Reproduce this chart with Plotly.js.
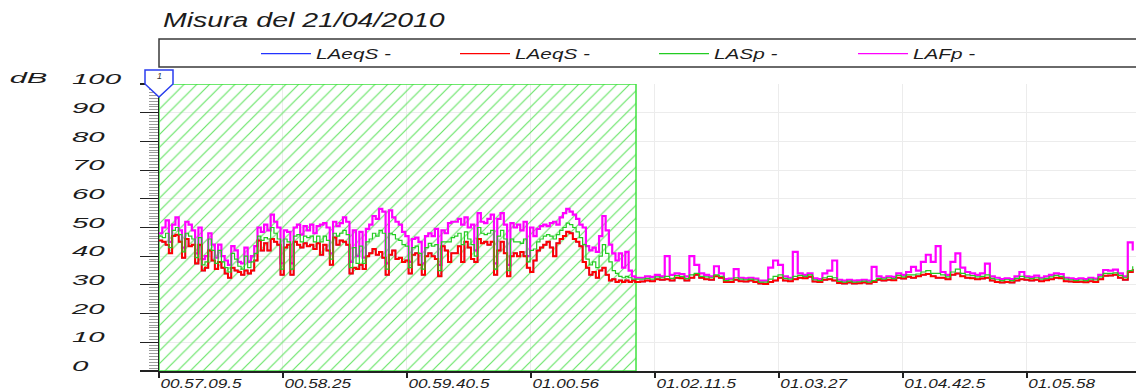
<!DOCTYPE html>
<html><head><meta charset="utf-8">
<script src="https://cdn.plot.ly/plotly-3.0.1.min.js"></script>
<style>html,body{margin:0;padding:0;background:#fff}#chart{width:1136px;height:390px}</style>
</head><body><div id="chart"></div>
<script>
// ---- tick labels / axis values ----
const tickLabels = ['00.57.09.5','00.58.25','00.59.40.5','01.00.56','01.02.11.5','01.03.27','01.04.42.5','01.05.58'];
const tickSeconds = [0, 75.5, 151, 226.5, 302, 377.5, 453, 528.5]; // seconds after 00.57.09.5
const xRange = [0, 595];
const yRange = [0, 100];
const hatchStart = 0, hatchEnd = 290.5;   // marked interval "1"
const seriesNames = ['LAeqS -', 'LAeqS -', 'LASp -', 'LAFp -'];

// sampling grid: part A every 2 s (0..290), part B every 3 s (293..593)
const stepA = 2, lastA = 290, firstB = 293, stepB = 3, lastB = 593;

// ---- LAFp (magenta) ----
const lafpA = [
 48,50,52.5,45,51,53.5,49,43,52,51,
 49,41,50,39,40,48,44,39.5,44,40,
 38.5,37,43.5,42,38,37.5,43,38,40,43.5,
 50,48.5,51,49,54.5,52,50,37.5,49,48.5,
 37.5,50,51,47.5,50.5,49,51,48,50.5,51,
 51.5,50,41,52,50.5,51.5,53.5,52,38,49,
 40,48.5,39.5,49.5,51,54,53,56.5,55.5,37.5,
 56,53.5,52,51,48.5,47,38,46,46.5,45,
 37.5,47,48,47,49.5,37,49,48,51.5,52,
 52,53,51,53.5,50,51,42,55,52,51.5,
 53,54.5,37.5,53,55,51,37,51.5,50,51,
 49,52,40,50,47,49.5,50.5,51,50.5,51.5,
 52,51,53.5,55,56.5,55.5,54.5,53,51,50,
 43.5,42,43,41.5,47,54,49,44,41,38.5,
 41,36,41.5,35,33,32.5];
const lafpB = [
 32.5,33,32.8,33.5,33,40,33.5,34,33.8,33,
 40,37,34,33.5,33,36.5,34,32,32.2,35.5,
 32.5,32.3,32.5,32.2,31.5,31.5,36,38.5,37,33,
 32.5,41.5,34,33.5,34,32.3,32,34,35,38.5,
 31.8,31.5,31.8,31.5,31.6,31.8,31.5,36.3,33,32.5,
 33,32.8,34,33.5,34.5,36.3,35,38,40.5,38,
 43.5,34.5,33.5,38,41,36,34.5,34,33.5,34,
 37.4,33,32.5,32,32.3,32,33,34.5,33,32.8,
 33.2,32.5,33,33.5,34,33.8,32.5,32.3,32,32.3,
 32,32.5,32.2,33.5,35.2,35,35.3,34,33,44.8,
 42];

// ---- LASp (green) ----
const laspA = [
 47,46.5,48,43,49,50,47.5,41.5,48,47,
 46,39.5,46.5,37,38,46,42,37.5,42,38,
 36,34.5,41,39,36.5,35.5,40,36,38,41,
 47,45.5,46.5,46,50,48,46,35.5,46,45,
 35.5,47,47.5,45,47,46.5,47,45,47,45,
 47,45.5,39,48,47,48,49,47.5,36,43,
 37.5,43.5,37.5,45,46,48,47,49,48,35.5,
 48,47.5,46,45.5,44,43.5,36,43,43.5,41,
 35.5,43,44.5,43.5,44,35,45,45,45,46.5,
 47,48,44,48.5,46,44,40,50,48,47.5,
 48,49,35.5,47,49,46,35,46,45,45,
 44.5,46,38,42,42.5,45,46,47,47.5,47,
 46,47.5,49,50,51.5,51,50,48.5,46.5,44,
 39,37,38,36,40,44,41,38,35,34,
 33,32.5,33,32.5,32,32];
const laspB = [
 32,32.3,32,32.8,32.5,33,32.3,33.2,33,32.2,
 33.5,34,33,32.8,32.5,33.5,33,31.5,31.7,32.5,
 32,31.8,32,31.7,31,31,32,33,33.5,32.3,
 32,33,33.3,33,33.5,31.8,31.5,32.5,33,32.5,
 31.2,31,31.3,31,31.1,31.3,31,31.5,32.3,32,
 32.5,32.2,33.3,32.8,33.5,33.5,33.8,34.5,35,34,
 34,33.5,32.8,34.5,35.5,34,33.5,33.2,32.8,33,
 33.5,32.3,31.8,31.5,31.8,31.5,32.3,33,32.5,32.2,
 32.5,32,32.3,32.8,33.3,33,32,31.8,31.5,31.7,
 31.5,32,31.7,32.8,34,34,34.2,33.3,32.5,35,
 36.5];

// ---- LAeqS (red; the blue LAeqS trace carries the same values) ----
const laeqA = [
 45.5,45,44,41,47,47.5,45,39.5,46,43.5,
 44,37.5,44,35,36,42,38.5,35.5,38,36,
 34,32.5,36,35,34.5,33.5,35,34,35,38.5,
 45.5,42,44.5,42,46,45,44,33.5,43,44,
 33.5,45,44,43,44.5,43.5,44,42.5,44.5,40.5,
 44,42,37,46.5,44,45.5,45,44,34,36,
 35.5,37,35.5,40,41,42.5,40.5,41.5,39.5,33.5,
 40.5,42,39,39.5,38,38.5,34,40.5,41,37,
 33.5,40,41,40,39,33,43.5,42,38,41,
 41,43.5,38,45,43,39,38,46,44.5,45,
 44,45,33.5,42,45,41,33,40,41,40,
 41.5,40,36,34.5,38.5,42,43,44,45,43,
 40,44.5,46,47,48.5,48,46,45,43.5,38,
 36,33.5,34.5,32.5,35,36,33.5,31.5,32,31,
 31.5,31,31.5,31,31.5,31];
const laeqB = [
 31.2,31.5,31.3,32,31.8,32,31.5,32.5,32.3,31.5,
 32.5,33.5,32.5,32,31.8,33,32.5,31,31,31.8,
 31.3,31.2,31.5,31,30.5,30.3,31,31.5,32.5,31.5,
 31.3,32,32.5,32.3,32.8,31.2,31,31.8,32,31.5,
 30.7,30.5,30.8,30.5,30.6,30.8,30.5,31,31.8,31.5,
 31.8,31.6,32.5,32.2,32.8,32.5,33,33.5,33.8,33,
 32.5,32.5,32,33.5,34,33,32.5,32.3,32,32.2,
 32.5,31.5,31,30.8,31,30.8,31.5,32,31.8,31.5,
 31.8,31.3,31.6,32,32.5,32.3,31.3,31.2,31,31.1,
 30.9,31.3,31,32,33.2,33.3,33.5,32.5,31.8,34.5,
 35.5];

// ---- build ----
const times = [];
for (let t = 0; t <= lastA; t += stepA) times.push(t);
for (let t = firstB; t <= lastB; t += stepB) times.push(t);
const lafp = lafpA.concat(lafpB);
const lasp = laspA.concat(laspB);
const laeq = laeqA.concat(laeqB);

const FONT = 'Liberation Sans, Arial, sans-serif';
const TXT = '#1c1c1c';

function line(name, y, color, rank, w) {
  return {type:'scatter', mode:'lines', name:name, x:times, y:y,
          line:{color:color, width:w, shape:'hv'}, legendrank:rank, hoverinfo:'skip'};
}

const data = [
  {type:'bar', x:[(hatchStart+hatchEnd)/2], y:[yRange[1]], width:[hatchEnd-hatchStart],
   marker:{color:'rgba(255,255,255,0)', line:{color:'#3fe23f', width:1.5},
           pattern:{shape:'/', fgcolor:'#66e466', size:9, solidity:0.13, fillmode:'replace'}},
   showlegend:false, hoverinfo:'skip'},
  line(seriesNames[0], laeq, '#2233ff', 1, 1.5),
  line(seriesNames[3], lafp, '#ff00ff', 4, 2.2),
  line(seriesNames[1], laeq, '#ff0000', 2, 2),
  line(seriesNames[2], lasp, '#22cc22', 3, 1.2),
  {type:'scatter', x:[null], y:[null], yaxis:'y2', showlegend:false, hoverinfo:'skip'}
];

const W = 1136, H = 390, ML = 60, MT = 84, MB = 19;
const PW = W - ML, PH = H - MT - MB;
const px2x = p => (p - ML) / PW;
const px2y = p => (H - MB - p) / PH;

const layout = {
  width:W, height:H,
  margin:{l:ML, r:0, t:MT, b:MB, pad:0},
  paper_bgcolor:'#ffffff', plot_bgcolor:'#ffffff',
  bargap:0,
  title:{text:'Misura del 21/04/2010', xref:'container', yref:'container',
         x:163/W, xanchor:'left', y:1-20/H, yanchor:'middle',
         font:{family:FONT, size:19.5, style:'italic', color:TXT}},
  xaxis:{domain:[px2x(159), 1], range:xRange, tickvals:tickSeconds, ticktext:tickLabels,
         ticks:'outside', ticklen:5, tickwidth:1.5, tickcolor:'#222',
         showline:true, linecolor:'#222', linewidth:1.5,
         showgrid:true, gridcolor:'#ececec', zeroline:false,
         ticklabelposition:'outside right',
         tickfont:{family:FONT, size:12.5, style:'italic', color:TXT}},
  yaxis:{range:yRange, dtick:10, tick0:0, ticks:'outside', ticklen:18, tickwidth:1.2, tickcolor:'#222',
         showticklabels:false, showline:true, linecolor:'#222', linewidth:1.5,
         showgrid:true, gridcolor:'#ececec', zeroline:false,
         minor:{dtick:1, tick0:0, ticks:'outside', ticklen:9, tickcolor:'#9c9c9c', tickwidth:1, showgrid:false}},
  yaxis2:{overlaying:'y', anchor:'free', position:px2x(68), side:'left', range:yRange, dtick:10, tick0:0,
          ticks:'', showline:false, showgrid:false, zeroline:false,
          ticklabelposition:'inside top', ticklabeloverflow:'allow', ticklabelshift:5,
          tickfont:{family:FONT, size:14, style:'italic', color:TXT}},
  showlegend:true,
  legend:{orientation:'h', x:px2x(256), xanchor:'left', y:px2y(54), yanchor:'middle',
          itemwidth:50, entrywidth:134, entrywidthmode:'pixels',
          bgcolor:'rgba(0,0,0,0)', borderwidth:0, traceorder:'normal',
          font:{family:FONT, size:14, style:'italic', color:TXT}},
  shapes:[
    {type:'rect', xref:'paper', yref:'paper', x0:px2x(159), x1:1.02, y0:px2y(67), y1:px2y(39),
     line:{color:'#3a3a3a', width:1.5}, fillcolor:'rgba(0,0,0,0)', layer:'above'},
    {type:'path', xref:'paper', yref:'paper', xsizemode:'pixel', ysizemode:'pixel',
     xanchor:px2x(159), yanchor:1, path:'M-14,14 L14,14 L14,0 L0,-13 L-14,0 Z',
     line:{color:'#2a3df0', width:1.5}, fillcolor:'#ffffff', layer:'above'}
  ],
  annotations:[
    {text:'dB', xref:'paper', yref:'paper', x:px2x(28), y:px2y(78), xanchor:'center', yanchor:'middle',
     showarrow:false, font:{family:FONT, size:14, style:'italic', color:TXT}},
    {text:'1', xref:'paper', yref:'paper', x:px2x(159), y:1, yshift:8, xanchor:'center', yanchor:'middle',
     showarrow:false, font:{family:FONT, size:9, style:'italic', color:'#333'}}
  ]
};

Plotly.newPlot('chart', data, layout, {staticPlot:true, displayModeBar:false}).then(gd => {
  const stretch = (sel, f) => gd.querySelectorAll(sel).forEach(t => {
    const w = t.getComputedTextLength();
    if (w > 0) { t.setAttribute('textLength', (w*f).toFixed(1)); t.setAttribute('lengthAdjust', 'spacingAndGlyphs'); }
  });
  stretch('text.gtitle', 1.46);
  stretch('g.xtick > text', 1.37);
  stretch('g.y2tick > text', 2.1);
  stretch('text.legendtext', 1.48);
  gd.querySelectorAll('text.annotation-text').forEach(t => {
    if (t.textContent === 'dB') {
      const w = t.getComputedTextLength();
      t.setAttribute('textLength', (w*2.2).toFixed(1)); t.setAttribute('lengthAdjust', 'spacingAndGlyphs');
    }
  });
  // thin legend sample lines, as in the original
  gd.querySelectorAll('g.legendlines path.js-line').forEach(p => { p.style.strokeWidth = '1.2px'; });
});
</script>
</body></html>
